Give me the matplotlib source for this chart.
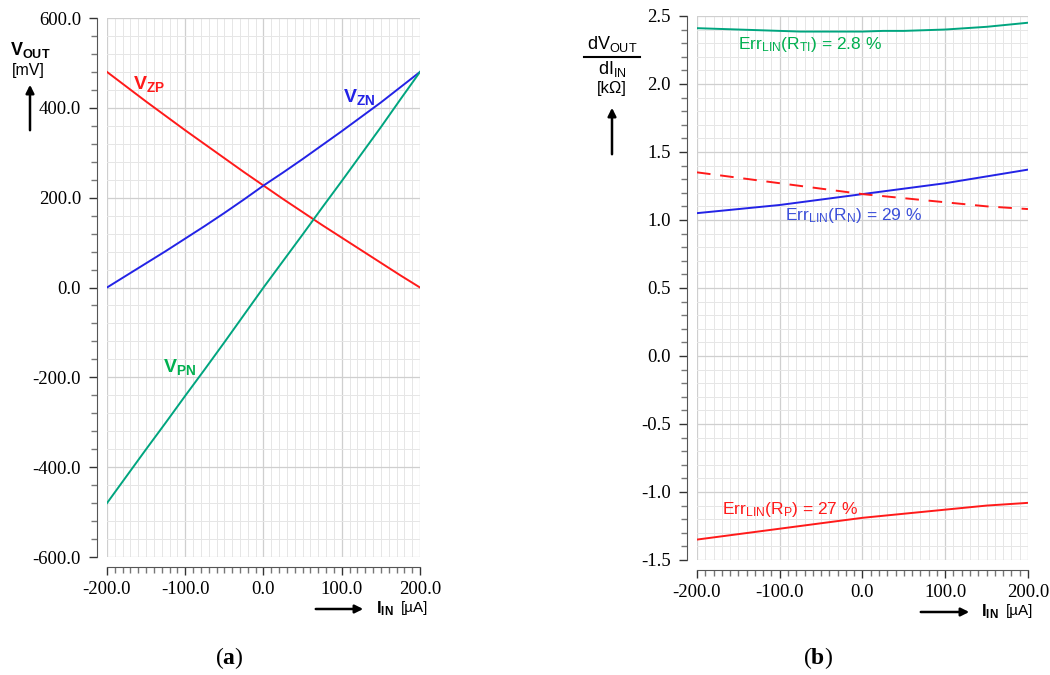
import numpy as np
import matplotlib.pyplot as plt
from matplotlib.patches import FancyArrowPatch
from matplotlib.ticker import MultipleLocator, FormatStrFormatter

# === DATA ===
i_in = [-200, -175, -150, -125, -100, -75, -50, -25, 0,
        25, 50, 75, 100, 125, 150, 175, 200]  # uA

# (a) output voltages [mV]
v_zp = [480, 447, 414, 382, 350, 319, 288, 257, 227,
        197, 168, 139, 111, 83, 55, 27, 0]
v_zn = [0, 27, 54, 81, 109, 137, 166, 196, 227,
        256, 286, 317, 348, 380, 412, 446, 480]
v_pn = [-480, -420, -360, -301, -241, -182, -122, -61, 0,
        59, 118, 178, 237, 297, 357, 419, 480]

# (b) slopes [kOhm]
r_ti = [2.41, 2.405, 2.40, 2.395, 2.39, 2.385, 2.385, 2.385, 2.385,
        2.39, 2.39, 2.395, 2.40, 2.41, 2.42, 2.435, 2.45]
r_n = [1.05, 1.065, 1.08, 1.095, 1.11, 1.13, 1.15, 1.17, 1.19,
       1.21, 1.23, 1.25, 1.27, 1.295, 1.32, 1.345, 1.37]
r_p_abs = [1.35, 1.33, 1.31, 1.29, 1.27, 1.25, 1.23, 1.21, 1.19,
           1.175, 1.16, 1.145, 1.13, 1.115, 1.10, 1.09, 1.08]
r_p = [-1.35, -1.33, -1.31, -1.29, -1.27, -1.25, -1.23, -1.21, -1.19,
       -1.175, -1.16, -1.145, -1.13, -1.115, -1.10, -1.09, -1.08]

RED = "#ff1a1a"
BLUE = "#2323e6"
GREEN = "#00a57f"
GREEN_TXT = "#00b050"
BLUE_TXT = "#3b4fd9"

plt.rcParams['font.family'] = ['Liberation Serif', 'DejaVu Serif']
plt.rcParams['mathtext.default'] = 'regular'
plt.rcParams['mathtext.fontset'] = 'custom'
plt.rcParams['mathtext.bf'] = 'Liberation Serif:bold'
SANS = ['Liberation Sans', 'DejaVu Sans']
PX = 0.72  # points per pixel at dpi 100

fig = plt.figure(figsize=(10.5, 6.75), dpi=100)
ax1 = fig.add_axes([0.1019, 0.1748, 0.2981, 0.7985])
ax2 = fig.add_axes([0.6638, 0.1704, 0.3152, 0.806])


def style(ax, ylim, ymaj, ymin):
    ax.set_xlim(-200, 200)
    ax.set_ylim(*ylim)
    for s in ['top', 'right']:
        ax.spines[s].set_visible(False)
    for s in ['left', 'bottom']:
        ax.spines[s].set_position(('outward', 10 * PX))
        ax.spines[s].set_color('#555555')
    ax.xaxis.set_major_locator(MultipleLocator(100))
    ax.xaxis.set_minor_locator(MultipleLocator(10))
    ax.yaxis.set_major_locator(MultipleLocator(ymaj))
    ax.yaxis.set_minor_locator(MultipleLocator(ymin))
    ax.xaxis.set_major_formatter(FormatStrFormatter('%.1f'))
    ax.yaxis.set_major_formatter(FormatStrFormatter('%.1f'))
    ax.tick_params(which='major', length=8 * PX, width=1, color='#333333',
                   labelsize=13.5)
    ax.tick_params(which='minor', length=6 * PX, width=1, color='#777777')
    ax.tick_params(axis='y', which='major', pad=8 * PX)
    ax.tick_params(axis='x', which='major', pad=6 * PX)
    ax.grid(which='major', color='#cfcfcf', lw=0.9)
    ax.grid(which='minor', color='#e6e6e6', lw=0.7)
    ax.set_axisbelow(True)


# === (a) ===
style(ax1, (-600, 600), 200, 40)
ax1.plot(i_in, v_zp, color=RED, lw=1.4)
ax1.plot(i_in, v_zn, color=BLUE, lw=1.4)
ax1.plot(i_in, v_pn, color=GREEN, lw=1.4)
ax1.text(-167, 452, r'V$_{ZP}$', color=RED, fontsize=14, fontweight='bold',
         family=SANS, ha='left', va='center')
ax1.text(102, 424, r'V$_{ZN}$', color=BLUE, fontsize=14, fontweight='bold',
         family=SANS, ha='left', va='center')
ax1.text(-128, -176, r'V$_{PN}$', color=GREEN_TXT, fontsize=14, fontweight='bold',
         family=SANS, ha='left', va='center')

# === (b) ===
style(ax2, (-1.5, 2.5), 0.5, 0.1)
ax2.plot(i_in, r_ti, color=GREEN, lw=1.4)
ax2.plot(i_in, r_n, color=BLUE, lw=1.4)
ax2.plot(i_in, r_p_abs, color=RED, lw=1.4, ls=(0, (7, 5)))
ax2.plot(i_in, r_p, color=RED, lw=1.4)
ax2.text(-150, 2.29, r'Err$_{LIN}$(R$_{TI}$) = 2.8 %', color=GREEN_TXT,
         fontsize=12.5, family=SANS, va='center')
ax2.text(-94, 1.03, r'Err$_{LIN}$(R$_{N}$) = 29 %', color=BLUE_TXT,
         fontsize=12.5, family=SANS, va='center')
ax2.text(-170, -1.13, r'Err$_{LIN}$(R$_{P}$) = 27 %', color=RED,
         fontsize=12.5, family=SANS, va='center')

# === axis labels (figure coords) ===
arrow = dict(arrowstyle='-|>', color='black', lw=1.8, mutation_scale=12)


def fx(px):
    return px / 1050


def fy(py):
    return 1 - py / 675


# left y label
fig.text(fx(10), fy(50), r'V$_{OUT}$', fontsize=13, fontweight='bold',
         family=SANS, ha='left', va='center')
fig.text(fx(12), fy(70), '[mV]', fontsize=11.5, family=SANS, ha='left', va='center')
fig.add_artist(FancyArrowPatch((fx(30), fy(133)), (fx(30), fy(82)),
                               transform=fig.transFigure, **arrow))

# right y label
fig.text(fx(612), fy(44), r'dV$_{OUT}$', fontsize=13, family=SANS,
         ha='center', va='center')
fig.add_artist(plt.Line2D([fx(584), fx(640)], [fy(57), fy(57)],
                          transform=fig.transFigure, color='black', lw=1.5))
fig.text(fx(612), fy(69), r'dI$_{IN}$', fontsize=13, family=SANS,
         ha='center', va='center')
fig.text(fx(612), fy(88), '[kΩ]', fontsize=12, family=SANS, ha='center', va='center')
fig.add_artist(FancyArrowPatch((fx(612), fy(157)), (fx(612), fy(105)),
                               transform=fig.transFigure, **arrow))

# x labels
for x0, x1, xt, yt in [(313, 366, 376, 609), (918, 972, 981, 612)]:
    fig.add_artist(FancyArrowPatch((fx(x0), fy(yt)), (fx(x1), fy(yt)),
                                   transform=fig.transFigure, **arrow))
    fig.text(fx(xt), fy(yt), r'I$_{IN}$', fontsize=12, fontweight='bold',
             family=SANS, ha='left', va='center')
    fig.text(fx(xt + 25), fy(yt - 1), '[µA]', fontsize=11, family=SANS,
             ha='left', va='center')

fig.text(fx(229), fy(658), r'($\mathbf{a}$)', fontsize=17, ha='center', va='center')
fig.text(fx(818), fy(658), r'($\mathbf{b}$)', fontsize=17, ha='center', va='center')

fig.savefig('out.png', dpi=100)
